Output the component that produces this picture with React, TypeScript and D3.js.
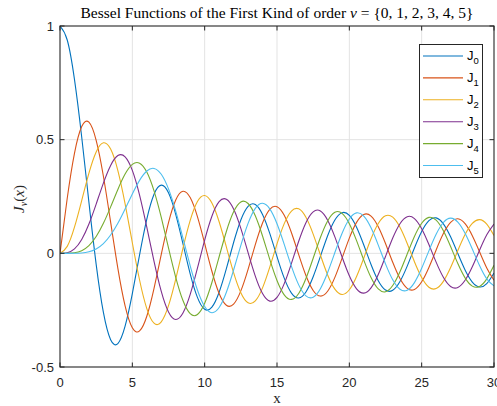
import React from "react";
import * as d3 from "d3";

const xs = [0, 0.5, 1, 1.5, 2, 2.5, 3, 3.5, 4, 4.5, 5, 5.5, 6, 6.5, 7, 7.5, 8, 8.5, 9, 9.5, 10, 10.5, 11, 11.5, 12, 12.5, 13, 13.5, 14, 14.5, 15, 15.5, 16, 16.5, 17, 17.5, 18, 18.5, 19, 19.5, 20, 20.5, 21, 21.5, 22, 22.5, 23, 23.5, 24, 24.5, 25, 25.5, 26, 26.5, 27, 27.5, 28, 28.5, 29, 29.5, 30];

const J0 = [1.0, 0.9385, 0.7652, 0.5118, 0.2239, -0.0484, -0.2601, -0.3801, -0.3972, -0.3205, -0.1776, -0.0068, 0.1506, 0.2601, 0.3001, 0.2663, 0.1717, 0.0419, -0.0903, -0.1939, -0.2459, -0.2366, -0.1712, -0.0677, 0.0477, 0.1469, 0.2069, 0.2150, 0.1711, 0.0875, -0.0142, -0.1092, -0.1749, -0.1964, -0.1699, -0.1031, -0.0134, 0.0772, 0.1466, 0.1789, 0.1670, 0.1151, 0.0366, -0.0490, -0.1207, -0.1616, -0.1624, -0.1239, -0.0562, 0.0237, 0.0963, 0.1441, 0.1560, 0.1299, 0.0727, -0.0010, -0.0732, -0.1263, -0.1479, -0.1332, -0.0863];

const J1 = [0, 0.2423, 0.4401, 0.5579, 0.5767, 0.4971, 0.3391, 0.1374, -0.0660, -0.2311, -0.3276, -0.3414, -0.2767, -0.1538, -0.0047, 0.1352, 0.2346, 0.2731, 0.2453, 0.1613, 0.0435, -0.0789, -0.1768, -0.2284, -0.2234, -0.1653, -0.0703, 0.0380, 0.1334, 0.1934, 0.2051, 0.1672, 0.0904, -0.0058, -0.0977, -0.1634, -0.1880, -0.1666, -0.1057, -0.0209, 0.0668, 0.1362, 0.1711, 0.1638, 0.1171, 0.0432, -0.0395, -0.1109, -0.1540, -0.1589, -0.1253, -0.0620, 0.0150, 0.0870, 0.1366, 0.1521, 0.1305, 0.0777, 0.0069, -0.0643, -0.1187];

const J2 = [0, 0.0306, 0.1149, 0.2321, 0.3528, 0.4461, 0.4861, 0.4586, 0.3641, 0.2178, 0.0466, -0.1173, -0.2429, -0.3074, -0.3014, -0.2302, -0.1130, 0.0224, 0.1448, 0.2279, 0.2546, 0.2216, 0.1391, 0.0280, -0.0849, -0.1734, -0.2177, -0.2094, -0.1520, -0.0608, 0.0416, 0.1308, 0.1862, 0.1957, 0.1584, 0.0844, -0.0075, -0.0952, -0.1577, -0.1810, -0.1603, -0.1018, -0.0203, 0.0642, 0.1314, 0.1654, 0.1590, 0.1145, 0.0434, -0.0367, -0.1063, -0.1490, -0.1549, -0.1233, -0.0626, 0.0121, 0.0825, 0.1318, 0.1484, 0.1288, 0.0784];

const J3 = [0, 0.0026, 0.0196, 0.0610, 0.1289, 0.2166, 0.3091, 0.3867, 0.4302, 0.4247, 0.3648, 0.2561, 0.1148, -0.0354, -0.1676, -0.2580, -0.2911, -0.2626, -0.1809, -0.0653, 0.0584, 0.1633, 0.2274, 0.2381, 0.1951, 0.1098, 0.0033, -0.1000, -0.1768, -0.2102, -0.1940, -0.1334, -0.0439, 0.0532, 0.1350, 0.1827, 0.1863, 0.1460, 0.0725, -0.0162, -0.0989, -0.1561, -0.1750, -0.1519, -0.0932, -0.0138, 0.0672, 0.1304, 0.1612, 0.1529, 0.1083, 0.0386, -0.0388, -0.1056, -0.1459, -0.1503, -0.1187, -0.0592, 0.0136, 0.0818, 0.1292];

const J4 = [0, 0.0002, 0.0025, 0.0118, 0.0340, 0.0738, 0.1320, 0.2044, 0.2811, 0.3485, 0.3912, 0.3967, 0.3576, 0.2747, 0.1578, 0.0238, -0.1054, -0.2078, -0.2655, -0.2691, -0.2196, -0.1283, -0.0151, 0.0962, 0.1825, 0.2261, 0.2192, 0.1650, 0.0762, -0.0262, -0.1192, -0.1824, -0.2027, -0.1764, -0.1108, -0.0218, 0.0696, 0.1426, 0.1806, 0.1760, 0.1306, 0.0561, -0.0297, -0.1066, -0.1568, -0.1691, -0.1415, -0.0812, -0.0031, 0.0742, 0.1323, 0.1581, 0.1460, 0.0994, 0.0302, -0.0449, -0.1079, -0.1443, -0.1456, -0.1122, -0.0526];

const J5 = [0, 0.0000, 0.0002, 0.0018, 0.0070, 0.0195, 0.0430, 0.0804, 0.1321, 0.1949, 0.2611, 0.3209, 0.3621, 0.3735, 0.3479, 0.2834, 0.1858, 0.0670, -0.0550, -0.1613, -0.2341, -0.2611, -0.2384, -0.1712, -0.0734, 0.0349, 0.1316, 0.1978, 0.2203, 0.1957, 0.1304, 0.0393, -0.0575, -0.1387, -0.1871, -0.1927, -0.1554, -0.0843, 0.0035, 0.0884, 0.1511, 0.1780, 0.1637, 0.1122, 0.0362, -0.0463, -0.1164, -0.1580, -0.1622, -0.1287, -0.0660, 0.0110, 0.0837, 0.1356, 0.1549, 0.1372, 0.0879, 0.0187, -0.0538, -0.1122, -0.1432];

const series = [J0, J1, J2, J3, J4, J5];
const seriesSub = ["0", "1", "2", "3", "4", "5"];
const colors = ["#0072BD", "#D95319", "#EDB120", "#7E2F8E", "#77AC30", "#4DBEEE"];
const xTicks = [0, 5, 10, 15, 20, 25, 30];
const yTicks = [-0.5, 0, 0.5, 1];
const yTickLabels = ["-0.5", "0", "0.5", "1"];

export default function App() {
  const W = 497, H = 406;
  const L = 60, R = 494, T = 26, B = 367;
  const x = d3.scaleLinear().domain([0, 30]).range([L, R]);
  const y = d3.scaleLinear().domain([-0.5, 1]).range([B, T]);
  const line = d3
    .line<number>()
    .x((_, i) => x(xs[i]))
    .y((d) => y(d))
    .curve(d3.curveNatural);
  const axisColor = "#262626";
  const gridColor = "#e3e3e3";
  const sans = "'Liberation Sans', Arial, sans-serif";
  const serif = "'Liberation Serif', 'DejaVu Serif', serif";
  const legX = 419.5, legY = 44.5, legW = 63, legH = 133;
  const rowY = (i: number) => 56 + i * 21.9;

  return (
    <svg width={W} height={H} style={{ position: "absolute", left: 0, top: 0, background: "#fff" }}>
      <rect x={0} y={0} width={W} height={H} fill="#fff" />
      <defs>
        <clipPath id="plotclip">
          <rect x={L} y={T - 1} width={R - L} height={B - T + 2} />
        </clipPath>
      </defs>
      {xTicks.slice(1, -1).map((t) => (
        <line key={"gx" + t} x1={x(t)} x2={x(t)} y1={T} y2={B} stroke={gridColor} strokeWidth={1} />
      ))}
      {yTicks.slice(1, -1).map((t) => (
        <line key={"gy" + t} x1={L} x2={R} y1={y(t)} y2={y(t)} stroke={gridColor} strokeWidth={1} />
      ))}
      <g clipPath="url(#plotclip)">
        {series.map((s, i) => (
          <path key={"s" + i} d={line(s) || ""} fill="none" stroke={colors[i]} strokeWidth={1.1} />
        ))}
      </g>
      <rect x={L} y={T} width={R - L} height={B - T} fill="none" stroke={axisColor} strokeWidth={1.1} />
      {xTicks.map((t) => (
        <g key={"tx" + t}>
          <line x1={x(t)} x2={x(t)} y1={B} y2={B - 4.5} stroke={axisColor} strokeWidth={1} />
          <line x1={x(t)} x2={x(t)} y1={T} y2={T + 4.5} stroke={axisColor} strokeWidth={1} />
          <text x={x(t)} y={387} textAnchor="middle" fontFamily={sans} fontSize={13} fill={axisColor}>
            {t}
          </text>
        </g>
      ))}
      {yTicks.map((t, i) => (
        <g key={"ty" + t}>
          <line x1={L} x2={L + 4.5} y1={y(t)} y2={y(t)} stroke={axisColor} strokeWidth={1} />
          <line x1={R} x2={R - 4.5} y1={y(t)} y2={y(t)} stroke={axisColor} strokeWidth={1} />
          <text x={54} y={y(t) + 4.6} textAnchor="end" fontFamily={sans} fontSize={13} fill={axisColor}>
            {yTickLabels[i]}
          </text>
        </g>
      ))}
      <text x={(L + R) / 2} y={18} textAnchor="middle" fontFamily={serif} fontSize={15.5} fill="#000">
        Bessel Functions of the First Kind of order <tspan fontStyle="italic">ν</tspan> = {"{0, 1, 2, 3, 4, 5}"}
      </text>
      <text x={(L + R) / 2} y={403} textAnchor="middle" fontFamily={serif} fontSize={15} fill={axisColor}>
        x
      </text>
      <text transform={`translate(24, 199) rotate(-90)`} textAnchor="middle" fontFamily={serif} fontSize={15} fill={axisColor}>
        <tspan fontStyle="italic">J</tspan>
        <tspan fontStyle="italic" fontSize={10} dy={3}>ν</tspan>
        <tspan dy={-3}>(</tspan>
        <tspan fontStyle="italic">x</tspan>
        <tspan>)</tspan>
      </text>
      <rect x={legX} y={legY} width={legW} height={legH} fill="#fff" stroke={axisColor} strokeWidth={1} />
      {series.map((_, i) => (
        <g key={"lg" + i}>
          <line x1={423} x2={463} y1={rowY(i)} y2={rowY(i)} stroke={colors[i]} strokeWidth={1.1} />
          <text x={467} y={rowY(i) + 4} fontFamily={sans} fontSize={13} fill="#000">
            J
            <tspan fontSize={9.5} dy={4}>{seriesSub[i]}</tspan>
          </text>
        </g>
      ))}
    </svg>
  );
}
